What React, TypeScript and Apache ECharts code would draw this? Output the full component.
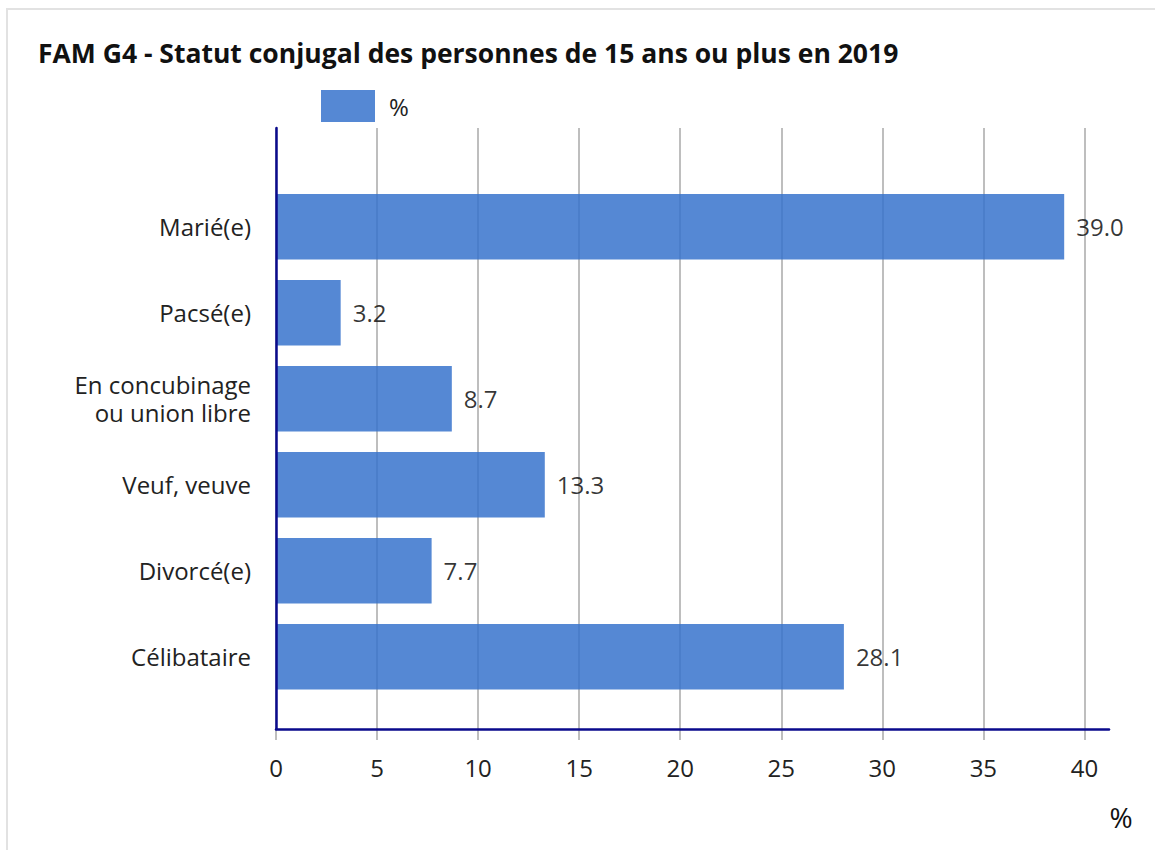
import React, { useEffect, useRef } from "react";
import * as echarts from "echarts";

const categories = [
  "Marié(e)",
  "Pacsé(e)",
  "En concubinage\nou union libre",
  "Veuf, veuve",
  "Divorcé(e)",
  "Célibataire",
];
const values = [39.0, 3.2, 8.7, 13.3, 7.7, 28.1];
const seriesName = "%";
const titleText = "FAM G4 - Statut conjugal des personnes de 15 ans ou plus en 2019";
const axisUnit = "%";

const FONT = "'Open Sans', 'Noto Sans', sans-serif";
const NAVY = "#0a0a8c";
const GRID_GRAY = "#a8a8a8";

export default function App() {
  const ref = useRef<HTMLDivElement>(null);
  useEffect(() => {
    if (!ref.current) return;
    const chart = echarts.init(ref.current, undefined, { renderer: "svg" });
    const left = 276;
    const frameTop = 128;
    const frameBottom = 729;
    const unitPx = (1084.7 - 276.3) / 40;
    const barTop = 183.7;
    const barHeight = 516;
    chart.setOption({
      animation: false,
      textStyle: { fontFamily: FONT },
      title: {
        text: titleText,
        left: 33,
        top: 34,
        textStyle: { fontFamily: FONT, fontSize: 26.5, fontWeight: "bold", color: "#111" },
      },
      legend: {
        left: 316,
        top: 85,
        itemWidth: 54,
        itemHeight: 32,
        itemGap: 20,
        icon: "rect",
        data: [seriesName],
        textStyle: { fontFamily: FONT, fontSize: 24, color: "#222", padding: [4, 0, 0, 9] },
      },
      grid: [
        { left, top: frameTop, width: 1109 - left, height: frameBottom - frameTop, containLabel: false },
        { left, top: frameTop, width: unitPx * 40, height: frameBottom - frameTop, containLabel: false },
        { left, top: barTop, width: unitPx * 40, height: barHeight, containLabel: false },
      ],
      xAxis: [
        {
          gridIndex: 0,
          type: "value",
          min: 0,
          max: 41.2,
          z: 4,
          axisLine: { show: true, lineStyle: { color: NAVY, width: 2.5 } },
          axisTick: { show: false },
          axisLabel: { show: false },
          splitLine: { show: false },
        },
        {
          gridIndex: 1,
          type: "value",
          min: 0,
          max: 40,
          interval: 5,
          z: 1,
          axisLine: { show: false },
          axisTick: { show: true, length: 11, inside: false, lineStyle: { color: GRID_GRAY, width: 1.5 } },
          axisLabel: { show: true, fontSize: 24, color: "#222", fontFamily: FONT, margin: 26 },
          splitLine: { show: true, lineStyle: { color: GRID_GRAY, width: 1.5 } },
        },
        {
          gridIndex: 2,
          type: "value",
          min: 0,
          max: 40,
          show: false,
        },
      ],
      yAxis: [
        {
          gridIndex: 0,
          type: "value",
          min: 0,
          max: 1,
          z: 4,
          axisLine: { show: true, lineStyle: { color: NAVY, width: 2.5 } },
          axisTick: { show: false },
          axisLabel: { show: false },
          splitLine: { show: false },
        },
        {
          gridIndex: 1,
          type: "value",
          min: 0,
          max: 1,
          show: false,
        },
        {
          gridIndex: 2,
          type: "category",
          data: categories,
          inverse: true,
          axisLine: { show: false },
          axisTick: { show: false },
          splitLine: { show: false },
          axisLabel: {
            fontSize: 24,
            color: "#222",
            fontFamily: FONT,
            margin: 25,
            lineHeight: 28,
            align: "right",
          },
        },
      ],
      series: [
        {
          name: seriesName,
          type: "bar",
          xAxisIndex: 2,
          yAxisIndex: 2,
          data: values,
          barWidth: 65.5,
          itemStyle: { color: "rgb(55,115,204)", opacity: 0.85 },
          label: {
            show: true,
            position: "right",
            distance: 12,
            fontSize: 24,
            color: "#111",
            fontFamily: FONT,
            formatter: (p: any) => Number(p.value).toFixed(1),
          },
        },
      ],
      graphic: [
        {
          type: "rect",
          silent: true,
          z: -10,
          shape: { x: 7, y: 9, width: 1400, height: 1000 },
          style: { fill: "none", stroke: "#e2e2e2", lineWidth: 2 },
        },
        {
          type: "text",
          x: 1121,
          y: 817,
          style: {
            text: axisUnit,
            font: `28px ${FONT}`,
            fill: "#111",
            textAlign: "center",
            textVerticalAlign: "middle",
          },
        },
      ],
    });
    return () => chart.dispose();
  }, []);
  return (
    <div
      ref={ref}
      style={{ position: "fixed", left: 0, top: 0, width: 1155, height: 850, background: "#fff" }}
    />
  );
}
